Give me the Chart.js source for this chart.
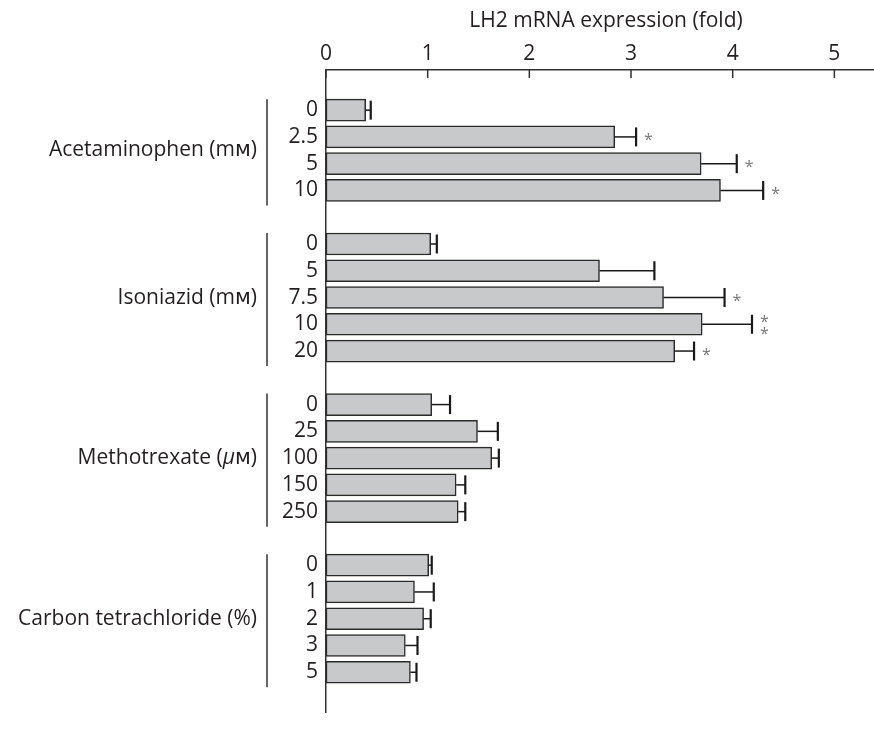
<!DOCTYPE html>
<html>
<head>
<meta charset="utf-8">
<script src="https://cdn.jsdelivr.net/npm/chart.js@4.4.1/dist/chart.umd.min.js"></script>
<style>
    html, body { margin: 0; padding: 0; background: #fff; }
</style>
</head>
<body>
<canvas id="chart" width="874" height="733"></canvas>
<script>
const groups = ['Acetaminophen (mᴍ)', 'Isoniazid (mᴍ)', 'Methotrexate (μᴍ)', 'Carbon tetrachloride (%)'];
const doses = [
    ['0', '2.5', '5', '10'],
    ['0', '5', '7.5', '10', '20'],
    ['0', '25', '100', '150', '250'],
    ['0', '1', '2', '3', '5']
];
const means = [
    [0.39, 2.84, 3.69, 3.88],
    [1.03, 2.69, 3.32, 3.70, 3.43],
    [1.04, 1.49, 1.63, 1.28, 1.30],
    [1.01, 0.87, 0.96, 0.78, 0.83]
];
const errors = [
    [0.05, 0.21, 0.35, 0.42],
    [0.06, 0.54, 0.60, 0.49, 0.19],
    [0.18, 0.20, 0.07, 0.09, 0.07],
    [0.03, 0.19, 0.07, 0.12, 0.06]
];
const stars = [
    [0, 1, 1, 1],
    [0, 0, 1, 2, 1],
    [0, 0, 0, 0, 0],
    [0, 0, 0, 0, 0]
];
const xTicks = [0, 1, 2, 3, 4, 5];
const xTitle = 'LH2 mRNA expression (fold)';

const FONT = '"Open Sans", "DejaVu Sans", sans-serif';
const INK = '#231f20';
const SIZE = 21;

// flatten groups into one category axis, with blank rows between groups
const labels = [''];
const values = [null];
const errs = [null];
const sig = [0];
const groupRows = [];
groups.forEach((g, gi) => {
    const start = labels.length;
    doses[gi].forEach((d, i) => {
        labels.push(d);
        values.push(means[gi][i]);
        errs.push(errors[gi][i]);
        sig.push(stars[gi][i]);
    });
    groupRows.push([start, labels.length - 1]);
    labels.push('');
    values.push(null);
    errs.push(null);
    sig.push(0);
});

const extras = {
    id: 'extras',
    afterDatasetsDraw(chart) {
        const { ctx, scales: { x, y } } = chart;
        ctx.save();
        ctx.strokeStyle = '#1a1a1a';
        values.forEach((v, i) => {
            if (v === null) return;
            const py = y.getPixelForValue(i);
            const x0 = x.getPixelForValue(v);
            const x1 = x.getPixelForValue(v + errs[i]);
            ctx.lineWidth = 1.5;
            ctx.beginPath();
            ctx.moveTo(x0, py);
            ctx.lineTo(x1, py);
            ctx.stroke();
            ctx.lineWidth = 2.2;
            ctx.beginPath();
            ctx.moveTo(x1, py - 9.5);
            ctx.lineTo(x1, py + 9.5);
            ctx.stroke();
            if (sig[i]) {
                ctx.fillStyle = '#777';
                ctx.font = '16px ' + FONT;
                ctx.textAlign = 'left';
                ctx.textBaseline = 'middle';
                if (sig[i] === 1) {
                    ctx.fillText('*', x1 + 8, py + 4);
                } else {
                    ctx.fillText('*', x1 + 8, py - 2);
                    ctx.fillText('*', x1 + 8, py + 10);
                }
            }
        });
        ctx.restore();
    },
    afterDraw(chart) {
        const { ctx, chartArea, scales: { x, y } } = chart;
        ctx.save();
        // inward tick marks on the top axis
        ctx.strokeStyle = '#333';
        ctx.lineWidth = 1.5;
        xTicks.forEach(t => {
            const px = x.getPixelForValue(t);
            ctx.beginPath();
            ctx.moveTo(px, chartArea.top);
            ctx.lineTo(px, chartArea.top + 8);
            ctx.stroke();
        });
        // axis title
        ctx.fillStyle = INK;
        ctx.font = SIZE + 'px ' + FONT;
        ctx.textAlign = 'center';
        ctx.textBaseline = 'middle';
        ctx.fillText(xTitle, (chartArea.left + chartArea.right) / 2 + 6, 21);
        // group brackets and names
        groupRows.forEach(([a, b], gi) => {
            const top = y.getPixelForValue(a) - 11;
            const bot = y.getPixelForValue(b) + 15;
            ctx.lineWidth = 1.5;
            ctx.beginPath();
            ctx.moveTo(267, top);
            ctx.lineTo(267, bot);
            ctx.stroke();

            const mid = (y.getPixelForValue(a) + y.getPixelForValue(b)) / 2;
            const parts = groups[gi].split(/(μ)/).filter(s => s);
            const fontFor = s => (s === 'μ' ? 'italic ' : '') + SIZE + 'px ' + FONT;
            let w = 0;
            parts.forEach(s => { ctx.font = fontFor(s); w += ctx.measureText(s).width; });
            let px = 257 - w;
            ctx.textAlign = 'left';
            parts.forEach(s => {
                ctx.font = fontFor(s);
                ctx.fillText(s, px, mid);
                px += ctx.measureText(s).width;
            });
        });
        ctx.restore();
    }
};

new Chart(document.getElementById('chart'), {
    type: 'bar',
    data: {
        labels: labels,
        datasets: [{
            data: values,
            backgroundColor: '#c8c9ca',
            borderColor: '#2a2a2a',
            borderWidth: 1.5,
            borderSkipped: false,
            barThickness: 22
        }]
    },
    options: {
        indexAxis: 'y',
        responsive: false,
        animation: false,
        layout: { padding: 0 },
        plugins: { legend: { display: false }, tooltip: { enabled: false } },
        scales: {
            x: {
                position: 'top',
                min: 0,
                max: 5.39,
                afterBuildTicks: s => { s.ticks = xTicks.map(v => ({ value: v })); },
                afterFit: s => { s.height = 70; },
                grid: { display: false, drawTicks: false },
                border: { display: true, color: '#333', width: 1.5 },
                ticks: { padding: 3, color: INK, font: { size: SIZE, family: FONT } }
            },
            y: {
                afterFit: s => { s.width = 326; },
                grid: { display: false, drawTicks: false },
                border: { display: true, color: '#333', width: 1.5 },
                ticks: { autoSkip: false, padding: 8, color: INK, font: { size: SIZE, family: FONT } }
            }
        }
    },
    plugins: [extras]
});
</script>
</body>
</html>
